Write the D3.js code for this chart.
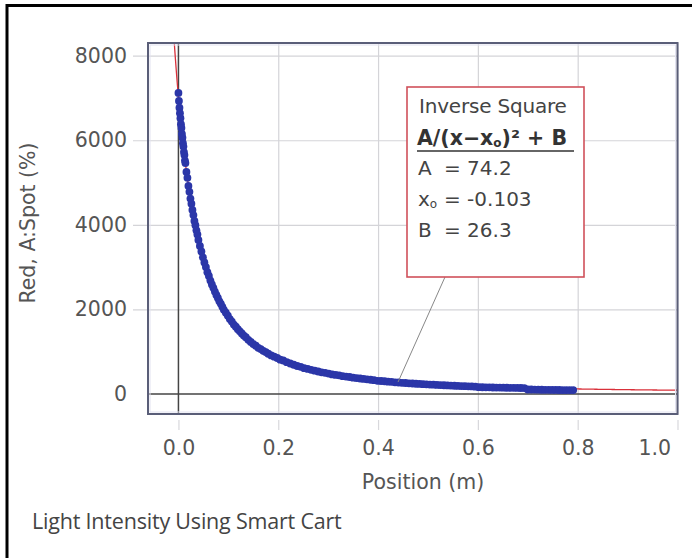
<!DOCTYPE html>
<html>
<head>
<meta charset="utf-8">
<script src="https://cdn.jsdelivr.net/npm/d3@7"></script>
<style>
  body { margin: 0; padding: 0; background: #fff; }
  svg { display: block; font-family: "DejaVu Sans", sans-serif; }
</style>
</head>
<body>
<div id="chart"></div>
<script>
var positions = [0.000, 0.001, 0.002, 0.003, 0.004, 0.005, 0.006, 0.007, 0.008, 0.009,
  0.010, 0.011, 0.012, 0.013, 0.014, 0.016, 0.018, 0.020, 0.022, 0.024,
  0.026, 0.028, 0.030, 0.032, 0.034, 0.036, 0.038, 0.040, 0.043, 0.046,
  0.049, 0.052, 0.055, 0.058, 0.061, 0.064, 0.067, 0.070, 0.073, 0.076,
  0.079, 0.082, 0.085, 0.088, 0.091, 0.095, 0.099, 0.103, 0.107, 0.111,
  0.115, 0.119, 0.123, 0.127, 0.131, 0.135, 0.140, 0.145, 0.150, 0.155,
  0.160, 0.165, 0.170, 0.175, 0.180, 0.186, 0.192, 0.198, 0.204, 0.210,
  0.217, 0.224, 0.231, 0.238, 0.245, 0.252, 0.259, 0.266, 0.273, 0.280,
  0.287, 0.294, 0.301, 0.308, 0.315, 0.322, 0.329, 0.336, 0.343, 0.350,
  0.357, 0.364, 0.371, 0.378, 0.385, 0.392, 0.399, 0.406, 0.413, 0.420,
  0.427, 0.434, 0.441, 0.448, 0.455, 0.462, 0.469, 0.476, 0.483, 0.490,
  0.497, 0.504, 0.511, 0.518, 0.525, 0.532, 0.539, 0.546, 0.553, 0.560,
  0.567, 0.574, 0.581, 0.588, 0.595, 0.602, 0.609, 0.616, 0.623, 0.630,
  0.637, 0.644, 0.651, 0.658, 0.665, 0.672, 0.679, 0.686, 0.693, 0.700,
  0.707, 0.714, 0.721, 0.728, 0.735, 0.742, 0.749, 0.756, 0.763, 0.770,
  0.777, 0.784, 0.791];
var intensity = [7120, 6930, 6770, 6640, 6520, 6380, 6290, 6150, 6060, 5930,
  5850, 5720, 5650, 5520, 5460, 5250, 5110, 4920, 4780, 4620,
  4500, 4350, 4230, 4090, 3990, 3870, 3770, 3640, 3500, 3370,
  3230, 3110, 3000, 2880, 2790, 2680, 2590, 2510, 2420, 2340,
  2270, 2190, 2130, 2060, 1990, 1920, 1850, 1770, 1710, 1640,
  1590, 1530, 1480, 1430, 1380, 1340, 1280, 1230, 1180, 1140,
  1090, 1060, 1020, 990, 950, 910, 880, 850, 810, 790,
  750, 720, 690, 660, 640, 610, 590, 570, 550, 530,
  510, 500, 480, 460, 450, 440, 420, 410, 400, 385,
  375, 365, 355, 345, 335, 325, 310, 305, 300, 290,
  285, 275, 270, 262, 258, 250, 246, 240, 236, 230,
  226, 220, 218, 212, 208, 205, 200, 198, 193, 190,
  186, 184, 180, 178, 172, 160, 158, 156, 155, 152,
  150, 150, 148, 146, 145, 143, 142, 140, 138, 105,
  104, 102, 100, 98, 97, 96, 95, 94, 93, 92,
  92, 91, 90];

// inverse square fit shown in the box
var fitA = 74.2, fitX0 = -0.103, fitB = 26.3;
var fitName = "Inverse Square";

var xTicks = [0.0, 0.2, 0.4, 0.6, 0.8, 1.0];
var yTicks = [0, 2000, 4000, 6000, 8000];
var xTitle = "Position (m)";
var yTitle = "Red, A:Spot (%)";
var caption = "Light Intensity Using Smart Cart";

var W = 694, H = 558;
var plot = { left: 148, top: 43, right: 677.5, bottom: 414 };
var FS = 20.5;

var svg = d3.select("#chart").append("svg")
  .attr("width", W).attr("height", H);

// outer frame (top and left edges only)
svg.append("path")
  .attr("d", "M7,558 V5.5 H692")
  .attr("fill", "none").attr("stroke", "#000").attr("stroke-width", 3);

var x = d3.scaleLinear().domain([-0.061, 1.0]).range([plot.left, plot.right]);
var y = d3.scaleLinear().domain([-475, 8300]).range([plot.bottom, plot.top]);

// plot background
svg.append("rect")
  .attr("x", plot.left).attr("y", plot.top)
  .attr("width", plot.right - plot.left).attr("height", plot.bottom - plot.top)
  .attr("fill", "#fff");

// grid lines (extending out as tick marks)
var gy = svg.append("g").attr("transform", "translate(" + plot.right + ",0)")
  .call(d3.axisLeft(y).tickValues(yTicks.filter(d => d !== 0))
    .tickSize(plot.right - plot.left + 15).tickFormat(""));
gy.select(".domain").remove();
gy.selectAll("line").attr("stroke", "#d4d4d8").attr("stroke-width", 1.2);

var gx = svg.append("g").attr("transform", "translate(0," + plot.top + ")")
  .call(d3.axisBottom(x).tickValues(xTicks.filter(d => d !== 0))
    .tickSize(plot.bottom - plot.top).tickFormat(""));
gx.select(".domain").remove();
gx.selectAll("line").attr("stroke", "#d4d4d8").attr("stroke-width", 1.2);

// short tick marks under the plot
var gxt = svg.append("g").attr("transform", "translate(0," + (plot.bottom + 6) + ")")
  .call(d3.axisBottom(x).tickValues(xTicks).tickSize(10).tickFormat(""));
gxt.select(".domain").remove();
gxt.selectAll("line").attr("stroke", "#d8d8dc").attr("stroke-width", 1.2);

// tick labels
var yAxis = svg.append("g").attr("transform", "translate(" + (plot.left - 15) + ",0)")
  .call(d3.axisLeft(y).tickValues(yTicks).tickSize(0).tickPadding(6).tickFormat(d3.format("d")));
yAxis.select(".domain").remove();
yAxis.selectAll("text").attr("font-size", FS).attr("fill", "#555")
  .attr("font-family", "DejaVu Sans, sans-serif");

var xAxis = svg.append("g").attr("transform", "translate(0," + (plot.bottom + 26) + ")")
  .call(d3.axisBottom(x).tickValues(xTicks).tickSize(0).tickPadding(0).tickFormat(d3.format(".1f")));
xAxis.select(".domain").remove();
xAxis.selectAll("text").attr("font-size", FS).attr("fill", "#555")
  .attr("font-family", "DejaVu Sans, sans-serif");
// last label is pulled inside the window edge
xAxis.selectAll(".tick").filter(d => d === 1.0).select("text")
  .attr("text-anchor", "end").attr("x", -7);

// zero lines
svg.append("line")
  .attr("x1", plot.left).attr("x2", plot.right).attr("y1", y(0)).attr("y2", y(0))
  .attr("stroke", "#444").attr("stroke-width", 1.5);
svg.append("line")
  .attr("x1", x(0)).attr("x2", x(0)).attr("y1", plot.top).attr("y2", plot.bottom)
  .attr("stroke", "#444").attr("stroke-width", 1.5);

// fit curve, clipped to plot
svg.append("clipPath").attr("id", "clip").append("rect")
  .attr("x", plot.left).attr("y", plot.top)
  .attr("width", plot.right - plot.left).attr("height", plot.bottom - plot.top);

var fitXs = d3.range(-0.0095, 1.0005, 0.0005);
svg.append("path")
  .datum(fitXs)
  .attr("clip-path", "url(#clip)")
  .attr("fill", "none").attr("stroke", "#d9303a").attr("stroke-width", 1.3)
  .attr("d", d3.line()
    .x(d => x(d))
    .y(d => y(fitA / Math.pow(d - fitX0, 2) + fitB)));

// data points
var data = positions.map((p, i) => ({ x: p, y: intensity[i] }));
svg.append("g").attr("clip-path", "url(#clip)")
  .selectAll("circle").data(data).enter().append("circle")
  .attr("cx", d => x(d.x)).attr("cy", d => y(d.y)).attr("r", 3.9)
  .attr("fill", "#2b36a8");

// plot frame
svg.append("rect")
  .attr("x", plot.left + 2).attr("y", plot.top + 2)
  .attr("width", plot.right - plot.left - 4).attr("height", plot.bottom - plot.top - 4)
  .attr("fill", "none").attr("stroke", "#e2e2f0").attr("stroke-width", 1);
svg.append("rect")
  .attr("x", plot.left).attr("y", plot.top)
  .attr("width", plot.right - plot.left).attr("height", plot.bottom - plot.top)
  .attr("fill", "none").attr("stroke", "#5a5e78").attr("stroke-width", 2);

// leader line from the fit box to the curve
svg.append("line")
  .attr("x1", 445).attr("y1", 277)
  .attr("x2", x(0.44)).attr("y2", y(280))
  .attr("stroke", "#888").attr("stroke-width", 1);

// fit box
var BS = 20;
var box = svg.append("g").attr("transform", "translate(407,87)");
box.append("rect").attr("width", 177).attr("height", 190)
  .attr("fill", "#fff").attr("stroke", "#d0505a").attr("stroke-width", 1.6);
box.append("text").attr("x", 12).attr("y", 26).attr("font-size", BS).attr("fill", "#444")
  .attr("letter-spacing", -0.2).text(fitName);
var eq = box.append("text").attr("x", 10).attr("y", 58).attr("font-size", 20.5)
  .attr("font-weight", "bold").attr("fill", "#333");
eq.append("tspan").text("A/(x\u2212x");
eq.append("tspan").attr("font-size", 12).attr("dy", 2).text("o");
eq.append("tspan").attr("dy", -2).text(")\u00B2 + B");
box.append("line").attr("x1", 10).attr("x2", 167).attr("y1", 64).attr("y2", 64)
  .attr("stroke", "#333").attr("stroke-width", 1.5);

var params = [["A", fitA], ["x", fitX0], ["B", fitB]];
params.forEach(function(p, i) {
  var t = box.append("text").attr("x", 11).attr("y", 88 + i * 31)
    .attr("font-size", BS).attr("fill", "#444");
  t.append("tspan").text(p[0]);
  if (p[0] === "x") t.append("tspan").attr("font-size", 12).attr("dy", 2).text("o");
  box.append("text").attr("x", 37).attr("y", 88 + i * 31)
    .attr("font-size", BS).attr("fill", "#444").text("= " + p[1]);
});

// titles
svg.append("text")
  .attr("transform", "translate(35,223) rotate(-90)")
  .attr("text-anchor", "middle").attr("font-size", FS).attr("fill", "#555")
  .text(yTitle);
svg.append("text")
  .attr("x", 423).attr("y", 489).attr("text-anchor", "middle")
  .attr("font-size", FS).attr("fill", "#555").text(xTitle);
svg.append("text")
  .attr("x", 32).attr("y", 529).attr("font-size", 21.5).attr("fill", "#444")
  .attr("font-family", "Open Sans, sans-serif").attr("letter-spacing", -0.2)
  .text(caption);
</script>
</body>
</html>
